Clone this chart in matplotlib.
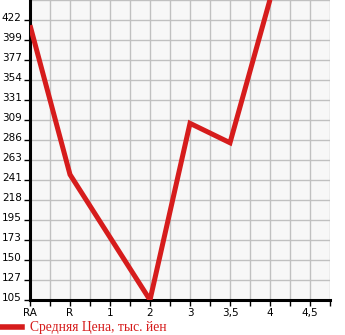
import numpy as np
import matplotlib.pyplot as plt
import matplotlib.transforms as mtransforms

categories = ['RA', 'R', '1', '2', '3', '3,5', '4', '4,5']
prices = [416, 247, 176, 105, 305, 283, 445]
y_labels = ['105', '127', '150', '173', '195', '218', '241', '263',
            '286', '309', '331', '354', '377', '399', '422']

red = '#d61c1c'

fig = plt.figure(figsize=(3.45, 3.35), dpi=100)
ax = fig.add_axes([30 / 345, 35 / 335, 300 / 345, 300 / 335])
ax.set_facecolor('#f7f7f7')

x = np.arange(len(prices))
ax.plot(x, prices, color=red, linewidth=3.6, solid_capstyle='butt',
        solid_joinstyle='miter', zorder=3, clip_on=True)

ymin, ymax = 105, 105 + 15 * 22.64
ax.set_xlim(0, 7.5)
ax.set_ylim(ymin, ymax)

yt = np.linspace(ymin, ymin + 14 * 22.64, len(y_labels))
ax.set_yticks(yt)
ax.set_yticklabels(y_labels)
ax.set_yticks(np.linspace(ymin, ymax, 16), minor=True)
ax.set_xticks(np.arange(len(categories)))
ax.set_xticklabels(categories)
ax.set_xticks(np.arange(0, 7.51, 0.5), minor=True)

ax.grid(True, which='minor', color='#c0c0c0', linewidth=1)
ax.grid(True, which='major', color='#c0c0c0', linewidth=1)
ax.set_axisbelow(True)

for s in ['top', 'right']:
    ax.spines[s].set_visible(False)
for s in ['left', 'bottom']:
    ax.spines[s].set_linewidth(2.2)
    ax.spines[s].set_color('black')

ax.tick_params(axis='both', which='both', length=4, width=1, color='black',
               labelsize=7.5, pad=2)
ax.tick_params(axis='y', which='minor', length=0)
ax.tick_params(axis='x', pad=1.5)

# y labels sit a little above their ticks
shift = mtransforms.ScaledTranslation(0, 3 / 100, fig.dpi_scale_trans)
for lab in ax.get_yticklabels():
    lab.set_transform(lab.get_transform() + shift)

fig.lines.append(plt.Line2D([0, 22 / 345], [8 / 335, 8 / 335], color=red,
                            linewidth=4, transform=fig.transFigure))
fig.text(30 / 345, 8 / 335, 'Средняя Цена, тыс. йен', color=red,
         fontsize=9.8, family='Liberation Serif', va='center', ha='left')

fig.savefig('out.png', dpi=100)
